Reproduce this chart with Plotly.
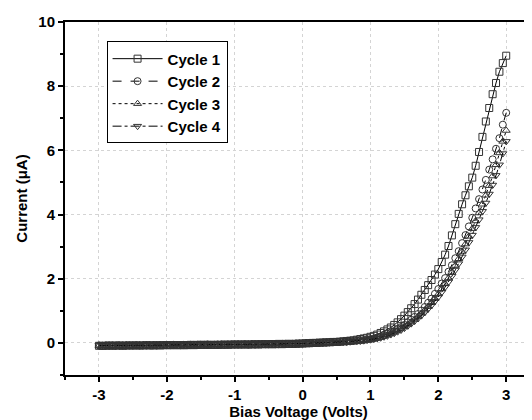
import plotly.graph_objects as go

voltage = [
    -3.00, -2.95, -2.90, -2.85, -2.80, -2.75, -2.70, -2.65, -2.60, -2.55,
    -2.50, -2.45, -2.40, -2.35, -2.30, -2.25, -2.20, -2.15, -2.10, -2.05,
    -2.00, -1.95, -1.90, -1.85, -1.80, -1.75, -1.70, -1.65, -1.60, -1.55,
    -1.50, -1.45, -1.40, -1.35, -1.30, -1.25, -1.20, -1.15, -1.10, -1.05,
    -1.00, -0.95, -0.90, -0.85, -0.80, -0.75, -0.70, -0.65, -0.60, -0.55,
    -0.50, -0.45, -0.40, -0.35, -0.30, -0.25, -0.20, -0.15, -0.10, -0.05,
    0.00, 0.05, 0.10, 0.15, 0.20, 0.25, 0.30, 0.35, 0.40, 0.45,
    0.50, 0.55, 0.60, 0.65, 0.70, 0.75, 0.80, 0.85, 0.90, 0.95,
    1.00, 1.05, 1.10, 1.15, 1.20, 1.25, 1.30, 1.35, 1.40, 1.45,
    1.50, 1.55, 1.60, 1.65, 1.70, 1.75, 1.80, 1.85, 1.90, 1.95,
    2.00, 2.05, 2.10, 2.15, 2.20, 2.25, 2.30, 2.35, 2.40, 2.45,
    2.50, 2.55, 2.60, 2.65, 2.70, 2.75, 2.80, 2.85, 2.90, 2.95,
    3.00,
]

cycle1_reverse = [
    -0.09, -0.09, -0.09, -0.08, -0.09, -0.08, -0.08, -0.09, -0.08, -0.08,
    -0.08, -0.08, -0.08, -0.08, -0.07, -0.08, -0.08, -0.07, -0.08, -0.07,
    -0.07, -0.07, -0.07, -0.07, -0.07, -0.07, -0.07, -0.06, -0.07, -0.06,
    -0.06, -0.06, -0.06, -0.06, -0.06, -0.06, -0.06, -0.05, -0.06, -0.05,
    -0.05, -0.05, -0.05, -0.05, -0.05, -0.05, -0.04, -0.05, -0.04, -0.04,
    -0.04, -0.04, -0.04, -0.03, -0.04, -0.03, -0.03, -0.03, -0.03, -0.02,
]
cycle1_forward = [
    -0.02, -0.01, -0.01, 0.00, 0.00, 0.01, 0.01, 0.02, 0.02, 0.03,
    0.03, 0.04, 0.05, 0.06, 0.07, 0.08, 0.10, 0.12, 0.14, 0.16,
    0.19, 0.22, 0.26, 0.31, 0.36, 0.42, 0.48, 0.56, 0.64, 0.74,
    0.85, 0.96, 1.08, 1.21, 1.35, 1.50, 1.65, 1.80, 1.96, 2.13,
    2.30, 2.52, 2.75, 3.02, 3.35, 3.70, 4.02, 4.32, 4.60, 4.88,
    5.15, 5.52, 5.95, 6.42, 6.90, 7.32, 7.75, 8.10, 8.45, 8.72,
    8.95,
]

cycle2_reverse = [
    -0.08, -0.09, -0.08, -0.08, -0.08, -0.09, -0.08, -0.08, -0.08, -0.08,
    -0.08, -0.07, -0.08, -0.08, -0.08, -0.07, -0.07, -0.08, -0.07, -0.07,
    -0.07, -0.07, -0.06, -0.07, -0.07, -0.06, -0.07, -0.06, -0.06, -0.06,
    -0.06, -0.06, -0.05, -0.06, -0.06, -0.05, -0.05, -0.06, -0.05, -0.05,
    -0.05, -0.05, -0.05, -0.04, -0.05, -0.04, -0.05, -0.04, -0.04, -0.04,
    -0.04, -0.03, -0.04, -0.04, -0.03, -0.03, -0.03, -0.03, -0.02, -0.02,
]
cycle2_forward = [
    -0.02, -0.01, -0.01, 0.00, 0.00, 0.00, 0.01, 0.01, 0.02, 0.02,
    0.03, 0.03, 0.04, 0.04, 0.05, 0.06, 0.07, 0.08, 0.09, 0.11,
    0.12, 0.14, 0.17, 0.20, 0.24, 0.28, 0.32, 0.37, 0.43, 0.49,
    0.56, 0.64, 0.72, 0.81, 0.90, 1.01, 1.12, 1.25, 1.38, 1.53,
    1.68, 1.85, 2.02, 2.22, 2.42, 2.64, 2.86, 3.11, 3.36, 3.63,
    3.90, 4.19, 4.48, 4.78, 5.08, 5.40, 5.72, 6.05, 6.38, 6.80,
    7.17,
]

cycle3_reverse = [
    -0.08, -0.08, -0.08, -0.09, -0.08, -0.08, -0.08, -0.08, -0.07, -0.08,
    -0.08, -0.08, -0.07, -0.08, -0.07, -0.08, -0.07, -0.07, -0.07, -0.07,
    -0.07, -0.06, -0.07, -0.07, -0.06, -0.07, -0.06, -0.06, -0.06, -0.06,
    -0.06, -0.05, -0.06, -0.06, -0.05, -0.06, -0.05, -0.05, -0.05, -0.05,
    -0.05, -0.04, -0.05, -0.05, -0.04, -0.04, -0.04, -0.04, -0.04, -0.04,
    -0.03, -0.04, -0.03, -0.03, -0.03, -0.03, -0.03, -0.02, -0.02, -0.02,
]
cycle3_forward = [
    -0.02, -0.01, -0.01, -0.01, 0.00, 0.00, 0.01, 0.01, 0.01, 0.02,
    0.02, 0.03, 0.03, 0.04, 0.05, 0.05, 0.06, 0.07, 0.08, 0.10,
    0.11, 0.13, 0.15, 0.18, 0.21, 0.25, 0.29, 0.34, 0.39, 0.45,
    0.51, 0.58, 0.65, 0.73, 0.82, 0.92, 1.02, 1.13, 1.25, 1.38,
    1.52, 1.68, 1.84, 2.02, 2.20, 2.41, 2.62, 2.85, 3.08, 3.32,
    3.56, 3.80, 4.05, 4.32, 4.60, 4.90, 5.20, 5.55, 5.92, 6.28,
    6.62,
]

cycle4_reverse = [
    -0.08, -0.08, -0.09, -0.08, -0.08, -0.08, -0.09, -0.08, -0.08, -0.08,
    -0.07, -0.08, -0.08, -0.07, -0.08, -0.07, -0.08, -0.07, -0.07, -0.07,
    -0.06, -0.07, -0.07, -0.06, -0.07, -0.06, -0.06, -0.07, -0.06, -0.06,
    -0.05, -0.06, -0.06, -0.05, -0.05, -0.06, -0.05, -0.05, -0.05, -0.04,
    -0.05, -0.05, -0.04, -0.05, -0.04, -0.04, -0.04, -0.04, -0.03, -0.04,
    -0.04, -0.03, -0.03, -0.03, -0.03, -0.03, -0.02, -0.03, -0.02, -0.02,
]
cycle4_forward = [
    -0.02, -0.02, -0.01, -0.01, 0.00, 0.00, 0.00, 0.01, 0.01, 0.02,
    0.02, 0.02, 0.03, 0.03, 0.04, 0.05, 0.06, 0.06, 0.07, 0.09,
    0.10, 0.12, 0.14, 0.16, 0.19, 0.22, 0.26, 0.30, 0.35, 0.40,
    0.46, 0.53, 0.60, 0.68, 0.76, 0.85, 0.95, 1.06, 1.17, 1.30,
    1.43, 1.58, 1.74, 1.90, 2.08, 2.27, 2.47, 2.68, 2.90, 3.13,
    3.36, 3.60, 3.84, 4.10, 4.36, 4.64, 4.92, 5.22, 5.55, 5.90,
    6.28,
]

names = ["Cycle 1", "Cycle 2", "Cycle 3", "Cycle 4"]
currents = [
    cycle1_reverse + cycle1_forward,
    cycle2_reverse + cycle2_forward,
    cycle3_reverse + cycle3_forward,
    cycle4_reverse + cycle4_forward,
]
symbols = ["square-open", "circle-open", "triangle-up-open", "triangle-down-open"]
dashes = ["solid", "dash", "dot", "dashdot"]

x_ticks = [-3, -2, -1, 0, 1, 2, 3]
y_ticks = [0, 2, 4, 6, 8, 10]

FONT = "Liberation Sans, Arial, sans-serif"

fig = go.Figure()
for name, cur, sym, dash in zip(names, currents, symbols, dashes):
    fig.add_trace(go.Scatter(
        x=voltage, y=cur, name=name, mode="lines+markers",
        line=dict(color="black", width=1, dash=dash),
        marker=dict(symbol=sym, size=7, color="#333333", line=dict(width=1, color="#333333")),
    ))

axis_common = dict(
    showline=True, linecolor="black", linewidth=2,
    ticks="outside", ticklen=5, tickwidth=1.5, tickcolor="black",
    showgrid=True, gridcolor="#d4d4d4", griddash="dot", gridwidth=1,
    zeroline=False, automargin=False,
    tickfont=dict(family=FONT, size=15, color="black", weight="bold"),
)

fig.update_layout(
    width=524, height=412,
    margin=dict(l=57, r=0, t=14, b=45),
    paper_bgcolor="white", plot_bgcolor="white",
    font=dict(family=FONT, color="black"),
    showlegend=True,
    legend=dict(
        x=0.089, y=0.945, xanchor="left", yanchor="top",
        bordercolor="black", borderwidth=1, bgcolor="white",
        font=dict(family=FONT, size=15, color="black", weight="bold"),
        tracegroupgap=0, itemwidth=50,
    ),
    xaxis=dict(
        range=[-3.5, 3.38], tickvals=x_ticks, ticktext=[str(v) for v in x_ticks],
        mirror=True,
        minor=dict(dtick=0.5, tick0=0, ticks="outside", ticklen=3, tickcolor="black", showgrid=False),
        title=dict(text="Bias Voltage (Volts)", standoff=0,
                   font=dict(family=FONT, size=15, color="black", weight="bold")),
        **axis_common,
    ),
    yaxis=dict(
        range=[-1, 10], tickvals=y_ticks, ticktext=[str(v) for v in y_ticks],
        minor=dict(dtick=1, tick0=0, ticks="outside", ticklen=3, tickcolor="black", showgrid=False),
        title=dict(text="Current (μA)", standoff=7,
                   font=dict(family=FONT, size=15, color="black", weight="bold")),
        **axis_common,
    ),
)

fig.write_html("out.html")
